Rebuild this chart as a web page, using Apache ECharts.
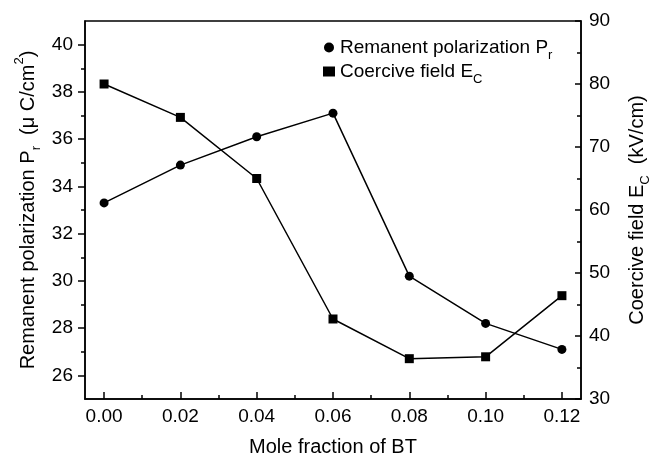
<!DOCTYPE html>
<html><head><meta charset="utf-8">
<script src="https://cdn.jsdelivr.net/npm/echarts@6/dist/echarts.min.js"></script>
<style>html,body{margin:0;padding:0;background:#fff}#c{width:662px;height:454px}</style>
</head><body><div id="c"></div>
<script>
const xValues = [0.00, 0.02, 0.04, 0.06, 0.08, 0.10, 0.12];
const remanentPr = [33.3, 34.9, 36.1, 37.1, 30.2, 28.2, 27.1];
const coerciveEc = [80.0, 74.7, 65.0, 42.7, 36.4, 36.7, 46.4];
const xTickLabels = [0.00, 0.02, 0.04, 0.06, 0.08, 0.10, 0.12];
const xMinorTicks = [0.01, 0.03, 0.05, 0.07, 0.09, 0.11];
const leftTickLabels = [26, 28, 30, 32, 34, 36, 38, 40];
const leftMinorTicks = [27, 29, 31, 33, 35, 37, 39];

const FONT = 'Liberation Sans, Arial, sans-serif';
const chart = echarts.init(document.getElementById('c'));
const sub = {fontSize: 13, fontFamily: FONT, color: '#000', verticalAlign: 'bottom', padding: [0,0,-5,0]};
const sup = {fontSize: 13, fontFamily: FONT, color: '#000', verticalAlign: 'top', padding: [-5,0,0,0]};
const main = {fontSize: 20, fontFamily: FONT, color: '#000'};
const axLine = {show: true, onZero: false, lineStyle: {color: '#000', width: 1.5}};

chart.setOption({
  animation: false,
  grid: {left: 85, right: 81, top: 21, bottom: 55, show: true, borderColor: '#000', borderWidth: 1.5,
         containLabel: false, outerBoundsMode: 'none'},
  legend: {
    orient: 'vertical', left: 318, top: 33, itemGap: 0, itemWidth: 12, itemHeight: 10,
    data: [
      {name: 'Pr', icon: 'circle'},
      {name: 'Ec', icon: 'rect'}
    ],
    formatter: function(n){
      return n === 'Pr' ? '{m|Remanent polarization P}{s|r}' : '{m|Coercive field E}{s|C}';
    },
    textStyle: {color: '#000', fontFamily: FONT, fontSize: 19, rich: {m: {fontSize: 19, fontFamily: FONT, color: '#000'}, s: sub}}
  },
  xAxis: [
    {type: 'value', min: -0.005, max: 0.125, position: 'bottom',
     name: 'Mole fraction of BT', nameLocation: 'middle', nameGap: 38,
     nameTextStyle: {fontSize: 20, fontFamily: FONT, color: '#000'},
     axisLine: axLine,
     axisTick: {inside: true, length: 7, lineStyle: {color: '#000', width: 1.5}, customValues: xTickLabels},
     axisLabel: {fontSize: 19, fontFamily: FONT, color: '#000', margin: 8, customValues: xTickLabels,
       formatter: v => v.toFixed(2)},
     splitLine: {show: false}},
    {type: 'value', min: -0.005, max: 0.125, position: 'bottom',
     axisLine: {show: false, onZero: false},
     axisTick: {inside: true, length: 4, lineStyle: {color: '#000', width: 1.5}, customValues: xMinorTicks},
     axisLabel: {show: false}, splitLine: {show: false}}
  ],
  yAxis: [
    {type: 'value', min: 25, max: 41, position: 'left',
     name: '{m|Remanent polarization P}{s|r}{m|  (μ C/cm}{p|2}{m|)}', nameLocation: 'middle', nameGap: 47, nameRotate: 90,
     nameMoveOverlap: false,
     nameTextStyle: {rich: {m: main, s: sub, p: sup}},
     axisLine: axLine,
     axisTick: {inside: false, length: 7, lineStyle: {color: '#000', width: 1.5}, customValues: leftTickLabels},
     axisLabel: {fontSize: 19, fontFamily: FONT, color: '#000', margin: 12, customValues: leftTickLabels},
     splitLine: {show: false}},
    {type: 'value', min: 30, max: 90, interval: 10, position: 'right',
     name: '{m|Coercive field E}{s|C}{m|  (kV/cm)}', nameLocation: 'middle', nameGap: 46, nameRotate: 90,
     nameMoveOverlap: false,
     nameTextStyle: {rich: {m: main, s: sub}},
     axisLine: axLine,
     axisTick: {inside: true, length: 6, lineStyle: {color: '#000', width: 1.5}},
     minorTick: {show: true, splitNumber: 2, length: 4, lineStyle: {color: '#000', width: 1.5}},
     axisLabel: {fontSize: 19, fontFamily: FONT, color: '#000', margin: 8},
     splitLine: {show: false}},
    {type: 'value', min: 25, max: 41, position: 'left',
     axisLine: {show: false, onZero: false},
     axisTick: {inside: false, length: 4, lineStyle: {color: '#000', width: 1.5}, customValues: leftMinorTicks},
     axisLabel: {show: false}, splitLine: {show: false}}
  ],
  series: [
    {name: 'Pr', type: 'line', xAxisIndex: 0, yAxisIndex: 0, symbol: 'circle', symbolSize: 9,
     data: xValues.map((x, i) => [x, remanentPr[i]]),
     lineStyle: {color: '#000', width: 1.5}, itemStyle: {color: '#000'}},
    {name: 'Ec', type: 'line', xAxisIndex: 0, yAxisIndex: 1, symbol: 'rect', symbolSize: 9,
     data: xValues.map((x, i) => [x, coerciveEc[i]]),
     lineStyle: {color: '#000', width: 1.5}, itemStyle: {color: '#000'}}
  ]
});
</script></body></html>
